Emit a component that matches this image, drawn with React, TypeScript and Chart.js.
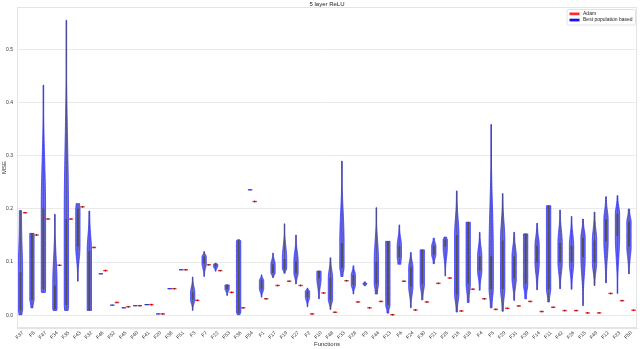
import React, { useEffect, useRef } from 'react';
import { Chart, registerables } from 'chart.js';

Chart.register(...registerables);

const FONT = 'Liberation Sans, Arial, sans-serif';

const categories = [
  'F37', 'F8', 'F47', 'F34', 'F35', 'F43', 'F32', 'F46', 'F52', 'F45', 'F40', 'F41', 'F20', 'F38', 'F51', 'F3', 'F7', 'F22',
  'F53', 'F36', 'F54', 'F1', 'F17', 'F19', 'F27', 'F2', 'F10', 'F48', 'F33', 'F28', 'F9', 'F44', 'F13', 'F6', 'F24', 'F30',
  'F21', 'F25', 'F16', 'F18', 'F4', 'F5', 'F29', 'F31', 'F39', 'F14', 'F11', 'F42', 'F26', 'F15', 'F49', 'F12', 'F23', 'F50',
];

// Best population based: distribution extent (min / max), dense body (lo / hi), relative density at the two ends
const bestMin = [
  0.001, 0.014, 0.043, 0.009, 0.009, 0.064, 0.009, 0.078, 0.019, 0.014, 0.018, 0.02, 0.0025, 0.05, 0.0856, 0.009, 0.073, 0.083,
  0.037, 0.001, 0.236, 0.034, 0.071, 0.079, 0.059, 0.016, 0.031, 0.011, 0.073, 0.04, 0.055, 0.04, 0.004, 0.096, 0.014, 0.029,
  0.097, 0.074, 0.006, 0.024, 0.047, 0.014, 0.0075, 0.028, 0.031, 0.048, 0.025, 0.05, 0.049, 0.018, 0.056, 0.061, 0.041, 0.078,
];
const bestMax = [
  0.197, 0.154, 0.433, 0.19, 0.555, 0.21, 0.196, 0.078, 0.019, 0.014, 0.018, 0.02, 0.0025, 0.05, 0.0856, 0.072, 0.12, 0.098,
  0.057, 0.142, 0.236, 0.076, 0.117, 0.172, 0.151, 0.051, 0.083, 0.108, 0.29, 0.093, 0.063, 0.2025, 0.139, 0.17, 0.118, 0.123,
  0.145, 0.147, 0.234, 0.175, 0.156, 0.359, 0.229, 0.156, 0.153, 0.173, 0.206, 0.198, 0.186, 0.181, 0.194, 0.223, 0.225, 0.2,
];
const bestLo = [
  0.01, 0.03, 0.05, 0.012, 0.02, 0.13, 0.01, 0.078, 0.019, 0.014, 0.018, 0.02, 0.0025, 0.05, 0.0856, 0.03, 0.098, 0.092,
  0.05, 0.005, 0.236, 0.05, 0.08, 0.088, 0.08, 0.035, 0.07, 0.03, 0.09, 0.058, 0.059, 0.06, 0.02, 0.11, 0.055, 0.06,
  0.115, 0.13, 0.04, 0.06, 0.085, 0.05, 0.05, 0.07, 0.06, 0.1, 0.05, 0.1, 0.1, 0.11, 0.1, 0.14, 0.15, 0.13,
];
const bestHi = [
  0.08, 0.154, 0.2, 0.055, 0.18, 0.2, 0.12, 0.078, 0.019, 0.014, 0.018, 0.02, 0.0025, 0.05, 0.0856, 0.042, 0.11, 0.096,
  0.057, 0.14, 0.236, 0.065, 0.095, 0.105, 0.1, 0.045, 0.083, 0.07, 0.135, 0.075, 0.059, 0.1, 0.139, 0.13, 0.09, 0.123,
  0.13, 0.142, 0.15, 0.175, 0.11, 0.11, 0.14, 0.11, 0.153, 0.13, 0.206, 0.135, 0.13, 0.145, 0.14, 0.18, 0.19, 0.175,
];
const bestEndLo = [
  0.7, 0.5, 0.9, 0.8, 0.8, 0.1, 1, 1, 1, 1, 1, 1, 1, 1, 1, 0.1, 0.15, 0.2,
  0.1, 0.6, 1, 0.15, 0.3, 0.3, 0.2, 0.15, 0.2, 0.2, 0.5, 0.15, 0.2, 0.5, 0.4, 0.7, 0.15, 0.3,
  0.3, 0.1, 0.3, 0.4, 0.2, 0.4, 0.3, 0.2, 0.4, 0.2, 0.4, 0.2, 0.2, 0.1, 0.2, 0.2, 0.1, 0.2,
];
const bestEndHi = [
  0.5, 1, 0.1, 0.1, 0.05, 0.8, 0.2, 1, 1, 1, 1, 1, 1, 1, 1, 0.1, 0.15, 0.2,
  1, 0.6, 1, 0.15, 0.15, 0.08, 0.1, 0.2, 1, 0.2, 0.05, 0.2, 0.2, 0.05, 1, 0.15, 0.2, 0.9,
  0.3, 0.6, 0.15, 0.9, 0.15, 0.05, 0.15, 0.2, 0.9, 0.2, 0.9, 0.15, 0.15, 0.2, 0.2, 0.2, 0.2, 0.3,
];

// Adam results
const adam = [
  0.193, 0.151, 0.181, 0.094, 0.181, 0.204, 0.1275, 0.084, 0.024, 0.016, 0.018, 0.02, 0.0025, 0.05, 0.0856, 0.028, 0.095, 0.084,
  0.043, 0.014, 0.214, 0.031, 0.056, 0.064, 0.056, 0.0025, 0.042, 0.0056, 0.065, 0.025, 0.014, 0.026, 0.001, 0.064, 0.01, 0.025,
  0.06, 0.07, 0.008, 0.049, 0.031, 0.011, 0.013, 0.0175, 0.026, 0.007, 0.015, 0.0088, 0.0088, 0.0044, 0.0044, 0.041, 0.0275, 0.0094,
];

const yTicks = [0, 0.1, 0.2, 0.3, 0.4, 0.5];
const yMin = -0.024;
const yMax = 0.58;

const BLUE_FILL = 'rgba(70,70,250,0.8)';
const BLUE_LINE = '#2424ff';
const RED = '#ff2b2b';
const INNER = '#505050';
const GRID = '#e4e4e4';

function taper(t: number, end: number) {
  const c = 0.5 + 0.5 * Math.cos(Math.PI * Math.min(1, Math.max(0, t)));
  return end + (1 - end) * Math.pow(c, 1.5);
}

function density(i: number, v: number) {
  const mn = bestMin[i], mx = bestMax[i], lo = bestLo[i], hi = bestHi[i];
  if (v < lo) return taper((lo - v) / Math.max(lo - mn, 1e-9), bestEndLo[i]);
  if (v > hi) return taper((v - hi) / Math.max(mx - hi, 1e-9), bestEndHi[i]);
  return 1;
}

const violinPlugin = {
  id: 'violins',
  afterDatasetsDraw(chart: any) {
    const { ctx, scales, chartArea } = chart;
    const x = scales.x;
    const y = scales.y;
    const n = categories.length;
    const cat = (chartArea.right - chartArea.left) / n;
    const off = cat * 0.2;
    const hwMax = cat * 0.19;
    ctx.save();
    for (let i = 0; i < n; i++) {
      const tick = x.getPixelForValue(i);
      // blue violin
      const cx = tick - off;
      const yTop = y.getPixelForValue(bestMax[i]);
      const yBot = y.getPixelForValue(bestMin[i]);
      if (yBot - yTop < 1.2) {
        const yy = (yTop + yBot) / 2;
        ctx.strokeStyle = BLUE_LINE;
        ctx.lineWidth = 1.2;
        ctx.beginPath();
        ctx.moveTo(cx - hwMax, yy);
        ctx.lineTo(cx + hwMax, yy);
        ctx.stroke();
        ctx.fillStyle = INNER;
        ctx.fillRect(cx - 0.5, yy - 0.6, 1, 1.2);
      } else {
        const N = 60;
        const pts: [number, number][] = [];
        for (let k = 0; k <= N; k++) {
          const v = bestMin[i] + ((bestMax[i] - bestMin[i]) * k) / N;
          pts.push([y.getPixelForValue(v), Math.max(0.3, hwMax * density(i, v))]);
        }
        ctx.beginPath();
        pts.forEach(([py, w], k) => (k === 0 ? ctx.moveTo(cx - w, py) : ctx.lineTo(cx - w, py)));
        for (let k = pts.length - 1; k >= 0; k--) ctx.lineTo(cx + pts[k][1], pts[k][0]);
        ctx.closePath();
        ctx.fillStyle = BLUE_FILL;
        ctx.fill();
        ctx.strokeStyle = BLUE_LINE;
        ctx.lineWidth = 0.7;
        ctx.stroke();
        // inner box
        ctx.strokeStyle = INNER;
        ctx.lineWidth = 0.7;
        ctx.beginPath();
        ctx.moveTo(cx, yTop + 0.5);
        ctx.lineTo(cx, yBot - 0.5);
        ctx.stroke();
        const bTop = y.getPixelForValue(bestHi[i]);
        const bBot = y.getPixelForValue(bestLo[i]);
        ctx.lineWidth = 2;
        ctx.beginPath();
        ctx.moveTo(cx, bTop - 0.4);
        ctx.lineTo(cx, bBot + 0.4);
        ctx.stroke();
      }
      // red Adam marker
      const rx = tick + off;
      const ry = y.getPixelForValue(adam[i]);
      ctx.strokeStyle = RED;
      ctx.lineWidth = 1.4;
      ctx.beginPath();
      ctx.moveTo(rx - hwMax, ry);
      ctx.lineTo(rx + hwMax, ry);
      ctx.stroke();
      ctx.fillStyle = '#333';
      ctx.fillRect(rx - 0.5, ry - 0.8, 1, 1.6);
    }
    ctx.restore();
  },
  afterDraw(chart: any) {
    const { ctx, chartArea } = chart;
    ctx.save();
    // frame
    ctx.strokeStyle = GRID;
    ctx.lineWidth = 1;
    ctx.strokeRect(chartArea.left + 0.5, chartArea.top + 0.5, chartArea.right - chartArea.left - 1, chartArea.bottom - chartArea.top - 1);
    // legend
    const items = [
      { label: chart.data.datasets[0].label, color: RED },
      { label: chart.data.datasets[1].label, color: '#1010ff' },
    ];
    ctx.font = `5px ${FONT}`;
    const tw = Math.max(...items.map((it) => ctx.measureText(it.label).width));
    const bw = tw + 19;
    const bx = chartArea.right - 1.5 - bw;
    const by = chartArea.top + 2.5;
    ctx.fillStyle = 'rgba(255,255,255,0.9)';
    ctx.strokeStyle = '#d6d6d6';
    ctx.lineWidth = 0.7;
    ctx.beginPath();
    ctx.roundRect(bx, by, bw, 15.5, 1.5);
    ctx.fill();
    ctx.stroke();
    items.forEach((it, k) => {
      const yy = by + 4.3 + k * 6.2;
      ctx.fillStyle = it.color;
      ctx.fillRect(bx + 2.5, yy - 1.3, 10, 2.7);
      ctx.fillStyle = '#222';
      ctx.textBaseline = 'middle';
      ctx.textAlign = 'left';
      ctx.fillText(it.label, bx + 16, yy);
    });
    ctx.restore();
  },
};

export default function App() {
  const ref = useRef<HTMLCanvasElement>(null);
  useEffect(() => {
    if (!ref.current) return;
    const chart = new Chart(ref.current, {
      type: 'bar',
      data: {
        labels: categories,
        datasets: [
          {
            label: 'Adam',
            data: adam.map((v) => [v, v]) as any,
            backgroundColor: 'rgba(0,0,0,0)',
            borderWidth: 0,
          },
          {
            label: 'Best population based',
            data: categories.map((_, i) => [bestMin[i], bestMax[i]]) as any,
            backgroundColor: 'rgba(0,0,0,0)',
            borderWidth: 0,
          },
        ],
      },
      options: {
        responsive: false,
        animation: false,
        devicePixelRatio: 1,
        layout: { padding: { top: 0, right: 3, bottom: 0, left: 0 } },
        plugins: {
          legend: { display: false },
          tooltip: { enabled: false },
          title: {
            display: true,
            text: '5 layer ReLU',
            fullSize: false,
            color: '#222',
            font: { family: FONT, size: 6, lineHeight: 1, weight: 'normal' },
            padding: { top: 1, bottom: 0 },
          },
        },
        scales: {
          x: {
            type: 'category',
            offset: true,
            grid: { display: false, drawTicks: false },
            border: { display: true, color: GRID },
            ticks: {
              autoSkip: false,
              minRotation: 45,
              maxRotation: 45,
              padding: 2,
              color: '#333',
              font: { family: FONT, size: 5 },
            },
            title: {
              display: true,
              text: 'Functions',
              color: '#333',
              font: { family: FONT, size: 6, lineHeight: 1 },
              padding: { top: 0, bottom: 2 },
            },
            afterFit(s: any) {
              s.height = 21;
              s.paddingLeft = 0;
              s.paddingRight = 0;
            },
          },
          y: {
            type: 'linear',
            min: yMin,
            max: yMax,
            afterBuildTicks(s: any) {
              s.ticks = yTicks.map((v) => ({ value: v }));
            },
            grid: { color: GRID, lineWidth: 0.8, drawTicks: false },
            border: { display: true, color: GRID },
            ticks: {
              padding: 4,
              color: '#333',
              font: { family: FONT, size: 5 },
              callback: (v: any) => Number(v).toFixed(1),
            },
            title: {
              display: true,
              text: 'MSE',
              color: '#333',
              font: { family: FONT, size: 6, lineHeight: 1 },
              padding: { top: 1, bottom: 0 },
            },
            afterFit(s: any) {
              s.width = 17;
              s.paddingTop = 0;
              s.paddingBottom = 0;
            },
          },
        },
      } as any,
      plugins: [violinPlugin],
    });
    return () => chart.destroy();
  }, []);
  return (
    <div style={{ position: 'absolute', left: 0, top: 0, width: 640, height: 349, background: '#fff' }}>
      <canvas ref={ref} width={640} height={349} style={{ display: 'block' }} />
    </div>
  );
}
